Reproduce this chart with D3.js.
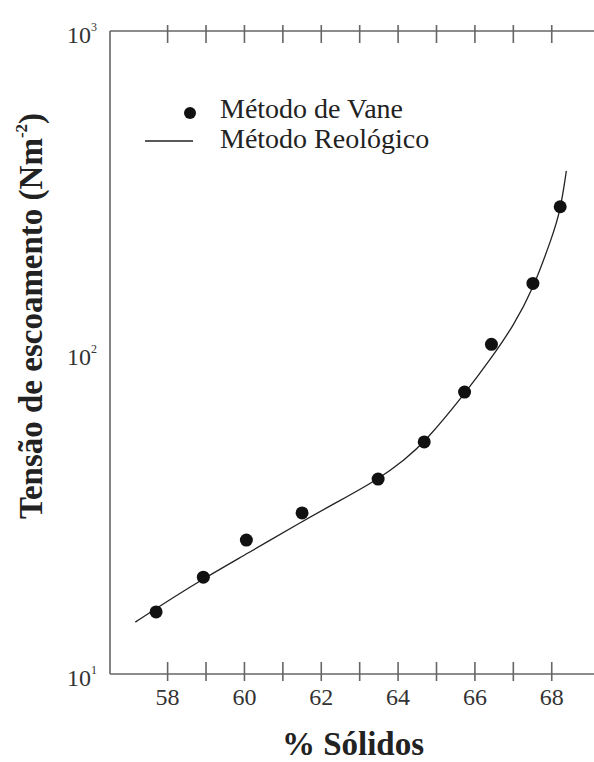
<!DOCTYPE html>
<html>
<head>
<meta charset="utf-8">
<script src="https://cdn.jsdelivr.net/npm/d3@7"></script>
<style>
  body { margin: 0; background: #fff; }
</style>
</head>
<body>
<svg id="grafico" width="594" height="762"></svg>
<script>
// Dados

// Método de Vane (pontos)
const vaneSolidos = [57.7, 58.93, 60.05, 61.5, 63.48, 64.68, 65.73, 66.43, 67.51, 68.22];
const vaneTensao  = [15.6, 20.0, 26.1, 31.7, 40.4, 52.7, 75.3, 106, 164, 284];

// Método Reológico (curva)
const reoSolidos = [57.16, 57.7, 58.93, 60.05, 61.5, 62.4, 63.5, 64.17, 64.7, 65.75, 66.43, 67.0, 67.5, 68.0, 68.22, 68.38];
const reoTensao  = [14.5, 16.0, 19.8, 23.6, 29.8, 34.2, 40.4, 46.4, 52.7, 74.8, 96.2, 121, 156, 227, 274, 367];

const xTicks = [58, 59, 60, 61, 62, 63, 64, 65, 66, 67, 68];
const xTickLabels = [58, 60, 62, 64, 66, 68];
const yTicks = [10, 100, 1000];
const yTickExp = ["1", "2", "3"];

const fonte = "'Liberation Serif', 'DejaVu Serif', serif";

const svg = d3.select("#grafico").style("font-family", fonte);

const mLeft = 110, mRight = 594, mTop = 31, mBottom = 674;

const x = d3.scaleLinear().domain([56.5, 69.1]).range([mLeft, mRight]);
const y = d3.scaleLog().domain([10, 1000]).range([mBottom, mTop]);

const corEixo = "#666";

// eixos (moldura sem o lado direito)
svg.append("line").attr("x1", mLeft).attr("x2", mLeft).attr("y1", mTop).attr("y2", mBottom)
   .attr("stroke", corEixo).attr("stroke-width", 1.6);
svg.append("line").attr("x1", mLeft).attr("x2", mRight).attr("y1", mTop).attr("y2", mTop)
   .attr("stroke", corEixo).attr("stroke-width", 1.6);
svg.append("line").attr("x1", mLeft).attr("x2", mRight).attr("y1", mBottom).attr("y2", mBottom)
   .attr("stroke", corEixo).attr("stroke-width", 1.6);

// marcas em cima e em baixo
svg.selectAll(".tickTop").data(xTicks).enter()
   .append("line")
   .attr("x1", d => x(d)).attr("x2", d => x(d))
   .attr("y1", mTop - 6).attr("y2", mTop + 12)
   .attr("stroke", corEixo).attr("stroke-width", 1.6);

svg.selectAll(".tickBot").data(xTicks).enter()
   .append("line")
   .attr("x1", d => x(d)).attr("x2", d => x(d))
   .attr("y1", mBottom - 12).attr("y2", mBottom + 7)
   .attr("stroke", corEixo).attr("stroke-width", 1.6);

// rótulos do eixo x
svg.selectAll(".xlab").data(xTickLabels).enter()
   .append("text")
   .attr("x", d => x(d))
   .attr("y", mBottom + 31)
   .attr("text-anchor", "middle")
   .attr("font-family", fonte)
   .attr("font-size", 24)
   .attr("fill", "#333")
   .text(d => d);

// rótulos do eixo y (10^n)
const ylab = svg.selectAll(".ylab").data(yTicks).enter()
   .append("text")
   .attr("x", 97)
   .attr("y", d => y(d) + 12)
   .attr("text-anchor", "end")
   .attr("font-family", fonte)
   .attr("font-size", 24)
   .attr("fill", "#333");
ylab.append("tspan").text("10");
ylab.append("tspan").attr("font-size", 12).attr("dy", -12).text((d, i) => yTickExp[i]);

// curva do método reológico
const line = d3.line()
    .x(d => x(d[0]))
    .y(d => y(d[1]))
    .curve(d3.curveBasis);

svg.append("path")
   .datum(reoSolidos.map((s, i) => [s, reoTensao[i]]))
   .attr("fill", "none")
   .attr("stroke", "#222")
   .attr("stroke-width", 1.3)
   .attr("d", line);

// pontos do método de Vane
svg.selectAll(".ponto").data(vaneSolidos.map((s, i) => [s, vaneTensao[i]])).enter()
   .append("circle")
   .attr("cx", d => x(d[0]))
   .attr("cy", d => y(d[1]))
   .attr("r", 6.5)
   .attr("fill", "#111");

// legenda
svg.append("circle").attr("cx", 190).attr("cy", 113).attr("r", 6).attr("fill", "#111");
svg.append("text").attr("x", 220).attr("y", 118)
   .attr("font-family", fonte).attr("font-size", 28).attr("fill", "#222")
   .text("Método de Vane");
svg.append("line").attr("x1", 145).attr("x2", 193).attr("y1", 141).attr("y2", 141)
   .attr("stroke", "#222").attr("stroke-width", 1.5);
svg.append("text").attr("x", 220).attr("y", 148)
   .attr("font-family", fonte).attr("font-size", 28).attr("fill", "#222")
   .text("Método Reológico");

// títulos dos eixos
svg.append("text")
   .attr("x", 353).attr("y", 755)
   .attr("text-anchor", "middle")
   .attr("font-family", fonte)
   .attr("font-size", 33).attr("font-weight", "bold").attr("fill", "#222")
   .text("% Sólidos");

const ytitle = svg.append("text")
   .attr("transform", "translate(42,316) rotate(-90)")
   .attr("text-anchor", "middle")
   .attr("font-family", fonte)
   .attr("font-size", 33).attr("font-weight", "bold").attr("fill", "#222");
ytitle.append("tspan").text("Tensão de escoamento (Nm");
ytitle.append("tspan").attr("font-size", 17).attr("dy", -15).text("-2");
ytitle.append("tspan").attr("dy", 15).text(")");
</script>
</body>
</html>
